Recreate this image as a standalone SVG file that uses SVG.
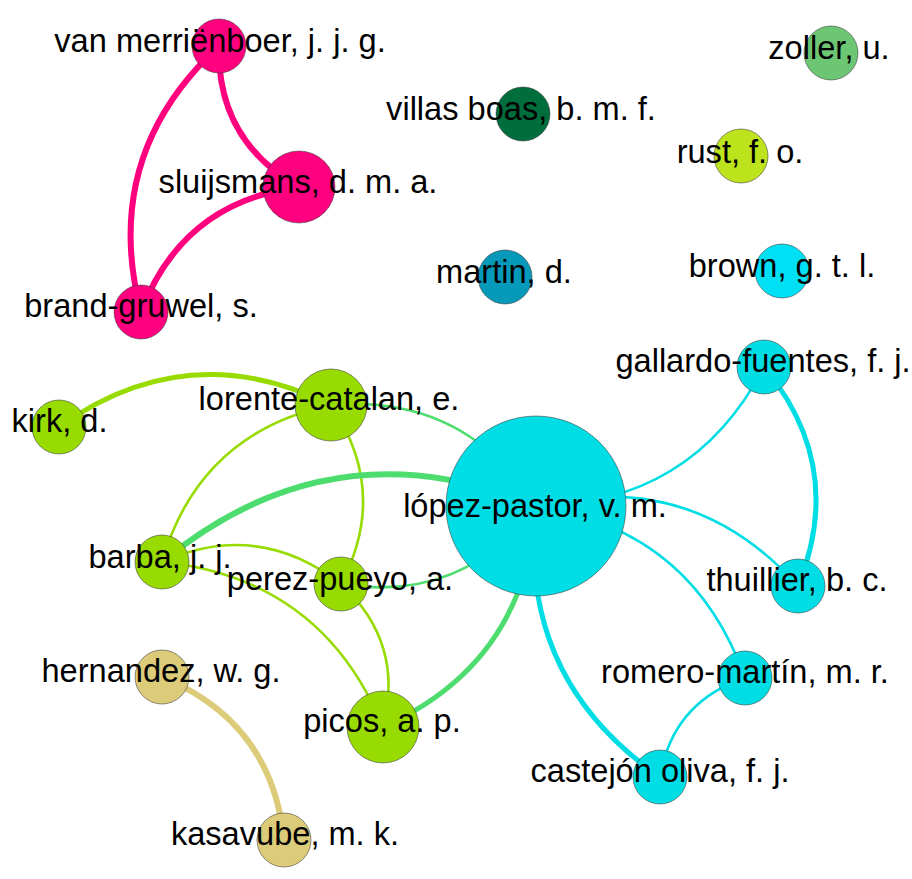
<svg xmlns="http://www.w3.org/2000/svg" width="912" height="879" viewBox="0 0 912 879">
<style>
.bg{fill:#ffffff}
.n{stroke:#3a3a3a;stroke-width:0.8;stroke-opacity:0.7}
.l{font-family:"Liberation Sans",Arial,sans-serif;font-size:32.6px;fill:#000;text-anchor:middle}
.e{fill:none;stroke-linecap:round}
.pk{stroke:#ff007f}
.tn{stroke:#dccb78}
.gr{stroke:#97db00}
.gc{stroke:#4ddc6e}
.cy{stroke:#00dde4}
.w6{stroke-width:6}
.w5{stroke-width:5}
.w3{stroke-width:2.6}
</style>
<rect class="bg" x="0" y="0" width="912" height="879"/>
<g id="edges">
<path class="e pk w6" d="M219,46 Q216.7,140.5 299,187"/>
<path class="e pk w6" d="M219,46 Q100.2,155.6 141,312"/>
<path class="e pk w6" d="M299,187 Q182.5,202.1 141,312"/>
<path class="e tn w6" d="M162,677 Q271.9,721.9 284,840"/>
<path class="e gr w5" d="M59,427 Q188.4,334.4 331,405"/>
<path class="e gr w3" d="M331,405 Q199.4,432.8 162,562"/>
<path class="e gr w3" d="M331,405 Q389.7,491.5 341,584"/>
<path class="e gr w3" d="M162,562 Q258.1,519.3 341,584"/>
<path class="e gr w3" d="M162,562 Q322,578.2 383,727"/>
<path class="e gr w3" d="M341,584 Q404.9,642.9 383,727"/>
<path class="e gc w6" d="M536,506 Q332.7,421.5 162,562"/>
<path class="e gc w3" d="M536,506 Q464.3,393.7 331,405"/>
<path class="e gc w3" d="M536,506 Q462.4,603.8 341,584"/>
<path class="e gc w5" d="M536,506 Q526.3,662.7 383,727"/>
<path class="e cy w3" d="M536,506 Q692.2,504.6 764,367"/>
<path class="e cy w3" d="M536,506 Q691.5,467.7 798,586"/>
<path class="e cy w3" d="M536,506 Q692.6,529.6 745,678"/>
<path class="e cy w5" d="M536,506 Q517.2,678.4 660,777"/>
<path class="e cy w5" d="M764,367 Q846.7,466.3 798,586"/>
<path class="e cy w3" d="M745,678 Q672.8,702 660,777"/>
</g>
<g id="n-van-merrienboer"><circle class="n" cx="219" cy="46" r="27" fill="#ff007f"/><text class="l" x="220" y="52">van merriënboer, j. j. g.</text></g>
<g id="n-sluijsmans"><circle class="n" cx="299" cy="187" r="36" fill="#ff007f"/><text class="l" x="298" y="193">sluijsmans, d. m. a.</text></g>
<g id="n-brand-gruwel"><circle class="n" cx="141" cy="312" r="27" fill="#ff007f"/><text class="l" x="141" y="317">brand-gruwel, s.</text></g>
<g id="n-zoller"><circle class="n" cx="831" cy="53" r="27" fill="#6dc673"/><text class="l" x="829" y="59">zoller, u.</text></g>
<g id="n-villas-boas"><circle class="n" cx="523" cy="114" r="27" fill="#006d3c"/><text class="l" x="521" y="120">villas boas, b. m. f.</text></g>
<g id="n-rust"><circle class="n" cx="741" cy="156" r="27" fill="#bde31c"/><text class="l" x="740" y="163">rust, f. o.</text></g>
<g id="n-martin"><circle class="n" cx="505" cy="277" r="27" fill="#0799ba"/><text class="l" x="504" y="283">martin, d.</text></g>
<g id="n-brown"><circle class="n" cx="782" cy="271" r="27" fill="#00e0f5"/><text class="l" x="782" y="277">brown, g. t. l.</text></g>
<g id="n-gallardo-fuentes"><circle class="n" cx="764" cy="367" r="27" fill="#00dde4"/><text class="l" x="763" y="372">gallardo-fuentes, f. j.</text></g>
<g id="n-lorente-catalan"><circle class="n" cx="331" cy="405" r="36" fill="#97db00"/><text class="l" x="329" y="410">lorente-catalan, e.</text></g>
<g id="n-kirk"><circle class="n" cx="59" cy="427" r="27" fill="#97db00"/><text class="l" x="59.5" y="432">kirk, d.</text></g>
<g id="n-lopez-pastor"><circle class="n" cx="536" cy="506" r="90" fill="#00dde4"/><text class="l" x="535" y="517">lópez-pastor, v. m.</text></g>
<g id="n-barba"><circle class="n" cx="162" cy="562" r="27" fill="#97db00"/><text class="l" x="160" y="568">barba, j. j.</text></g>
<g id="n-perez-pueyo"><circle class="n" cx="341" cy="584" r="27" fill="#97db00"/><text class="l" x="340" y="590">perez-pueyo, a.</text></g>
<g id="n-thuillier"><circle class="n" cx="798" cy="586" r="27" fill="#00dde4"/><text class="l" x="797" y="591">thuillier, b. c.</text></g>
<g id="n-hernandez"><circle class="n" cx="162" cy="677" r="27" fill="#dccb78"/><text class="l" x="161" y="682">hernandez, w. g.</text></g>
<g id="n-romero-martin"><circle class="n" cx="745" cy="678" r="27" fill="#00dde4"/><text class="l" x="745" y="683">romero-martín, m. r.</text></g>
<g id="n-picos"><circle class="n" cx="383" cy="727" r="36" fill="#97db00"/><text class="l" x="382" y="732">picos, a. p.</text></g>
<g id="n-castejon-oliva"><circle class="n" cx="660" cy="777" r="27" fill="#00dde4"/><text class="l" x="660" y="782">castejón oliva, f. j.</text></g>
<g id="n-kasavube"><circle class="n" cx="284" cy="840" r="27" fill="#dccb78"/><text class="l" x="285" y="845">kasavube, m. k.</text></g>
</svg>
